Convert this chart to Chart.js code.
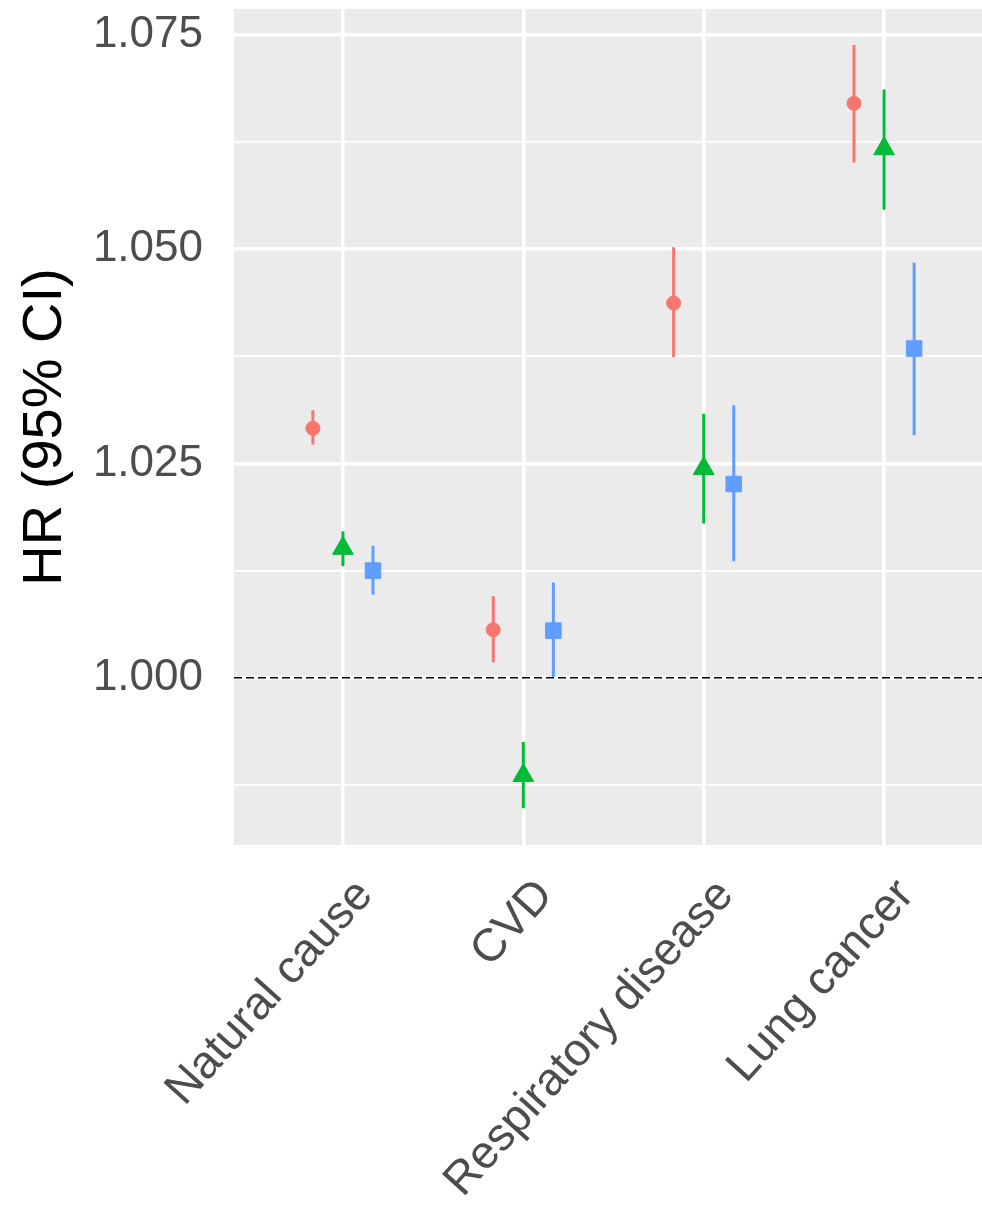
<!DOCTYPE html>
<html>
<head>
<meta charset="utf-8">
<script src="https://cdn.jsdelivr.net/npm/chart.js@4"></script>
<style>
  html, body { margin: 0; padding: 0; background: #ffffff; overflow: hidden; }
  #wrap { width: 982px; height: 1215px; position: relative; }
  #hrChart { display: block; }
</style>
</head>
<body>
<div id="wrap"><canvas id="hrChart"></canvas></div>
<script>
// Outcomes on the x axis
const categories = ['Natural cause', 'CVD', 'Respiratory disease', 'Lung cancer'];

// Red circles
const redHR = [1.0291, 1.0056, 1.0437, 1.0670];
const redLo = [1.0272, 1.0018, 1.0374, 1.0601];
const redHi = [1.0312, 1.0095, 1.0502, 1.0738];

// Green triangles
const greenHR = [1.0151, 0.9886, 1.0244, 1.0617];
const greenLo = [1.0130, 0.9848, 1.0180, 1.0546];
const greenHi = [1.0171, 0.9925, 1.0308, 1.0686];

// Blue squares
const blueHR = [1.0125, 1.0055, 1.0226, 1.0384];
const blueLo = [1.0097, 1.0001, 1.0136, 1.0283];
const blueHi = [1.0154, 1.0111, 1.0318, 1.0484];

// y ticks (major labelled, minor only gridlines)
const yTicks = [0.9875, 1.000, 1.0125, 1.025, 1.0375, 1.050, 1.0625, 1.075];
const yMajor = [1.000, 1.025, 1.050, 1.075];
const refValue = 1.000;

const FONT = 'Liberation Sans, Arial, Helvetica, sans-serif';
const xMin = 0.396, xMax = 4.543;
const yMin = 0.9805, yMax = 1.0780;
const dodge = [-1 / 6, 0, 1 / 6];

function isMajor(v) {
    return yMajor.some(m => Math.abs(m - v) < 1e-6);
}

function points(vals, off) {
    return vals.map((v, i) => ({ x: i + 1 + off, y: v }));
}

function ranges(lo, hi, off) {
    const out = [];
    lo.forEach((l, i) => {
        out.push({ x: i + 1 + off, y: l });
        out.push({ x: i + 1 + off, y: hi[i] });
        out.push({ x: i + 1 + off, y: null });
    });
    return out;
}

const series = [
    { hr: redHR, lo: redLo, hi: redHi, color: '#F8766D', style: 'circle', r: 7 },
    { hr: greenHR, lo: greenLo, hi: greenHi, color: '#00BA38', style: 'triangle', r: 12 },
    { hr: blueHR, lo: blueLo, hi: blueHi, color: '#619CFF', style: 'rect', r: 11 }
];

const datasets = [];
series.forEach((s, k) => {
    datasets.push({
        data: points(s.hr, dodge[k]),
        pointStyle: s.style,
        pointRadius: s.r,
        pointBackgroundColor: s.color,
        pointBorderColor: s.color,
        pointBorderWidth: 1,
        showLine: false,
        order: 0
    });
    datasets.push({
        data: ranges(s.lo, s.hi, dodge[k]),
        borderColor: s.color,
        borderWidth: 3,
        borderCapStyle: 'butt',
        pointRadius: 0,
        showLine: true,
        spanGaps: false,
        order: 1
    });
});
datasets.push({
    data: [{ x: xMin, y: refValue }, { x: xMax, y: refValue }],
    borderColor: '#000000',
    borderWidth: 1.5,
    borderDash: [8, 4],
    pointRadius: 0,
    showLine: true,
    order: 2
});

const panelBg = {
    id: 'panelBg',
    beforeDraw(chart) {
        const { ctx, chartArea: a } = chart;
        ctx.save();
        ctx.fillStyle = '#EBEBEB';
        ctx.fillRect(a.left, a.top, a.right - a.left, a.bottom - a.top);
        ctx.restore();
    }
};

new Chart(document.getElementById('hrChart'), {
    type: 'scatter',
    data: { datasets },
    plugins: [panelBg],
    options: {
        responsive: true,
        maintainAspectRatio: false,
        animation: false,
        layout: { autoPadding: false, padding: { top: 9, right: 0, left: 0, bottom: 0 } },
        plugins: {
            legend: { display: false },
            tooltip: { enabled: false }
        },
        scales: {
            x: {
                type: 'linear',
                min: xMin,
                max: xMax,
                afterBuildTicks: s => { s.ticks = categories.map((c, i) => ({ value: i + 1 })); },
                afterFit: s => { s.height = 370; s.paddingLeft = 0; s.paddingRight = 0; },
                border: { display: false },
                grid: { color: '#FFFFFF', lineWidth: 3.5, drawTicks: false },
                ticks: {
                    autoSkip: false,
                    maxRotation: 48,
                    minRotation: 48,
                    padding: 24,
                    labelOffset: 22,
                    color: '#4D4D4D',
                    font: { family: FONT, size: 46 },
                    callback: v => categories[Math.round(v) - 1]
                }
            },
            y: {
                type: 'linear',
                min: yMin,
                max: yMax,
                afterBuildTicks: s => { s.ticks = yTicks.map(v => ({ value: v })); },
                afterFit: s => { s.width = 234; s.paddingTop = 0; s.paddingBottom = 0; },
                border: { display: false },
                grid: {
                    color: '#FFFFFF',
                    lineWidth: ctx => (ctx.tick && isMajor(ctx.tick.value)) ? 3.5 : 1.8,
                    drawTicks: false
                },
                ticks: {
                    padding: 31,
                    color: '#4D4D4D',
                    font: { family: FONT, size: 44 },
                    callback: v => isMajor(v) ? v.toFixed(3) : ''
                },
                title: {
                    display: true,
                    text: 'HR (95% CI)',
                    color: '#000000',
                    padding: { top: 12, bottom: 0 },
                    font: { family: FONT, size: 56 }
                }
            }
        }
    }
});
</script>
</body>
</html>
